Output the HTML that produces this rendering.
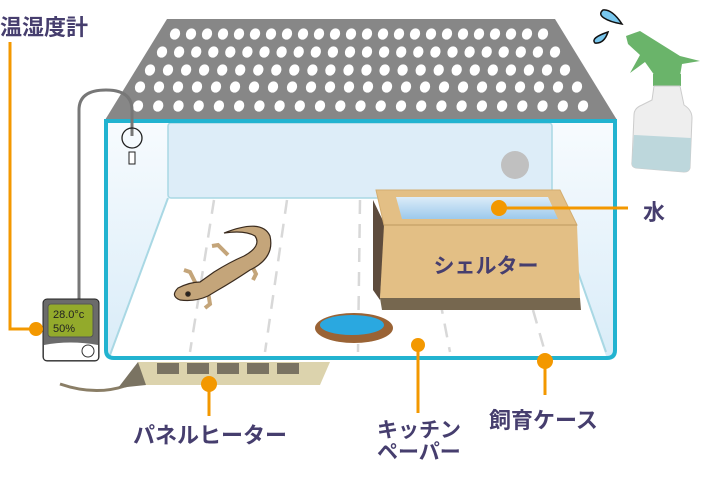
<!DOCTYPE html>
<html><head><meta charset="utf-8"><style>
html,body{margin:0;padding:0;background:#fff;width:717px;height:496px;overflow:hidden}
text{font-family:"Liberation Sans","Noto Sans CJK JP",sans-serif;font-weight:bold;fill:#463e6e}
</style></head><body>
<svg width="717" height="496" viewBox="0 0 717 496" xmlns="http://www.w3.org/2000/svg">
<defs>
<linearGradient id="side" x1="0" y1="0" x2="0" y2="1"><stop offset="0" stop-color="#f7fbfe"/><stop offset="1" stop-color="#d9ecf8"/></linearGradient>
<linearGradient id="win" x1="0" y1="0" x2="0" y2="1"><stop offset="0" stop-color="#dcecf8"/><stop offset="1" stop-color="#9cc9ec"/></linearGradient>
</defs>
<!-- heater -->
<path d="M60,384 Q95,396 125,386 L140,382" stroke="#8a7e66" stroke-width="3" fill="none"/>
<polygon points="138,362 330,362 320,385 145,385" fill="#dcd3ad"/>
<polygon points="118,388 138,362 146,385" fill="#7a7362"/>
<g fill="#7a7362"><rect x="157" y="363" width="22" height="11"/><rect x="187" y="363" width="22" height="11"/><rect x="217" y="363" width="22" height="11"/><rect x="247" y="363" width="22" height="11"/><rect x="277" y="363" width="22" height="11"/></g>
<!-- tank interior -->
<rect x="106" y="121" width="509" height="237" fill="#fff"/>
<polygon points="108,123 168,123 168,198 110,356 108,356" fill="url(#side)"/>
<polygon points="552,123 613,123 613,356 606,356 552,198" fill="url(#side)"/>
<rect x="168" y="123" width="384" height="75" rx="3" fill="#ddedf8" stroke="#a9d8e4" stroke-width="1.5"/>
<line x1="168" y1="198" x2="110" y2="355" stroke="#a9d8e4" stroke-width="2"/>
<line x1="552" y1="198" x2="606" y2="352" stroke="#a9d8e4" stroke-width="2"/>
<circle cx="515" cy="165" r="14" fill="#c0c0c0"/>
<!-- floor dashes -->
<g stroke="#d8d8d8" stroke-width="2.5" stroke-dasharray="14,10" fill="none">
<line x1="214" y1="200" x2="190" y2="352"/><line x1="287" y1="200" x2="265" y2="352"/>
<line x1="360" y1="200" x2="358" y2="352"/><line x1="440" y1="300" x2="450" y2="352"/>
<line x1="533" y1="310" x2="545" y2="352"/>
</g>
<!-- lid -->
<polygon points="167,19 555,19 617,120 105,120" fill="#878787"/>
<g fill="#fff" id="holes"></g>
<!-- tank frame -->
<path d="M106,121 L615,121 L615,350 Q615,358 607,358 L114,358 Q106,358 106,350 Z" fill="none" stroke="#22b3d0" stroke-width="4"/>
<!-- shelter -->
<polygon points="373,200 385,225 380,300 373,290" fill="#5e4c3d"/>
<polygon points="376,190 560,190 577,225 384,225" fill="#e3bf85" stroke="#d4ad70"/>
<polygon points="396,197 548,197 558,219 402,219" fill="url(#win)"/>
<polygon points="384,225 577,225 580,298 380,298" fill="#e3bf85"/>
<line x1="384" y1="225" x2="577" y2="225" stroke="#c9a56c" stroke-width="1.5"/>
<polygon points="380,298 580,298 581,310 382,310" fill="#76674f"/>
<text x="486" y="273" font-size="21" text-anchor="middle">シェルター</text>
<!-- dish -->
<ellipse cx="354" cy="328" rx="39" ry="15" fill="#9a6335"/>
<ellipse cx="352" cy="325" rx="32" ry="10" fill="#2aa8e0"/>
<!-- gecko -->
<g fill="#c4a57a" stroke="#3a2b1e" stroke-width="1.2">
<path d="M228,255 l-10,-10 l-6,1 M250,262 l6,12 l-3,6 M196,284 l-6,-12 l-6,-2 M208,292 l2,12 l-5,4" fill="none" stroke-width="4" stroke="#c4a57a"/>
<path d="M224,233 Q262,218 270,236 Q275,258 250,270 Q232,282 218,290 L208,296 Q195,302 180,300 Q170,296 178,288 Q190,282 200,282 L214,272 Q230,262 244,256 Q262,246 255,236 Q245,230 224,233 Z"/>
<circle cx="188" cy="294" r="2.2" fill="#222"/>
</g>
<!-- wire & probe -->
<path d="M79,302 L79,110 Q79,90 106,90 Q132,90 132,110 L132,136" stroke="#777" stroke-width="3" fill="none"/>
<circle cx="132" cy="138" r="10" fill="none" stroke="#222" stroke-width="1.3"/>
<rect x="129" y="152" width="6" height="12" fill="#fff" stroke="#222"/>
<!-- device -->
<rect x="43" y="299" width="56" height="62" rx="4" fill="#6b6b6b" stroke="#222"/>
<path d="M44,345 Q70,340 98,345 L98,357 Q98,360 95,360 L47,360 Q44,360 44,357 Z" fill="#fff"/>
<circle cx="88" cy="351" r="6" fill="#fff" stroke="#333"/>
<rect x="48" y="304" width="45" height="33" rx="3" fill="#93aa2b" stroke="#555"/>
<text x="53" y="318" font-size="11" style="fill:#222;font-weight:normal">28.0°c</text>
<text x="53" y="332" font-size="11" style="fill:#222;font-weight:normal">50%</text>
<!-- spray -->
<path d="M603,10 Q612,9 622,24 Q610,22 604,18 Q598,14 603,10Z" fill="#78c7ee" stroke="#111" stroke-width="1.5"/>
<path d="M608,32 Q604,44 595,43 Q590,38 608,32Z" fill="#78c7ee" stroke="#111" stroke-width="1.5"/>
<path d="M626,36 L640,31 L680,56 L700,61 L682,64 L680,76 L655,76 L645,62 L630,73 L640,55 L628,44 Z" fill="#6ab46a"/>
<rect x="653" y="74" width="28" height="12" fill="#6ab46a"/>
<path d="M654,86 L680,86 L684,105 Q692,110 692,118 L690,168 Q689,172 684,172 L636,168 Q631,167 632,162 L634,115 Q634,108 642,105 L652,100 Z" fill="#eeeeee" stroke="#ccc"/>
<path d="M634,135 L691,138 L690,168 Q689,172 684,172 L636,168 Q631,167 632,162 Z" fill="#bdd7dc"/>
<!-- callouts -->
<g stroke="#f39800" stroke-width="3" fill="none">
<path d="M10,42 L10,329 L36,329"/>
<line x1="499" y1="208" x2="628" y2="208"/>
<line x1="209" y1="384" x2="209" y2="416"/>
<line x1="418" y1="345" x2="418" y2="413"/>
<line x1="545" y1="361" x2="545" y2="395"/>
</g>
<g fill="#f39800">
<circle cx="36" cy="329" r="7"/><circle cx="499" cy="208" r="8"/><circle cx="209" cy="384" r="8"/><circle cx="418" cy="345" r="7"/><circle cx="545" cy="361" r="8"/>
</g>
<text x="0" y="35" font-size="22">温湿度計</text>
<text x="643" y="220" font-size="22">水</text>
<text x="210" y="443" font-size="22" text-anchor="middle">パネルヒーター</text>
<text x="377" y="437" font-size="21">キッチン</text>
<text x="377" y="459" font-size="21">ペーパー</text>
<text x="489" y="428" font-size="22">飼育ケース</text>
</svg>
<script>
(function(){var g=document.getElementById('holes');var ns='http://www.w3.org/2000/svg';
var rows=[[34,175,543,24],[52,162,555,24],[70,150,565,24],[87,140,577,24],[106,138,583,23]];
rows.forEach(function(r){var n=r[3];for(var i=0;i<n;i++){var cx=r[1]+(r[2]-r[1])*i/(n-1);var e=document.createElementNS(ns,'ellipse');e.setAttribute('cx',cx.toFixed(1));e.setAttribute('cy',r[0]);e.setAttribute('rx',5);e.setAttribute('ry',5.8);e.setAttribute('transform','rotate(25 '+cx.toFixed(1)+' '+r[0]+')');g.appendChild(e);}});
})();
</script>
</body></html>
